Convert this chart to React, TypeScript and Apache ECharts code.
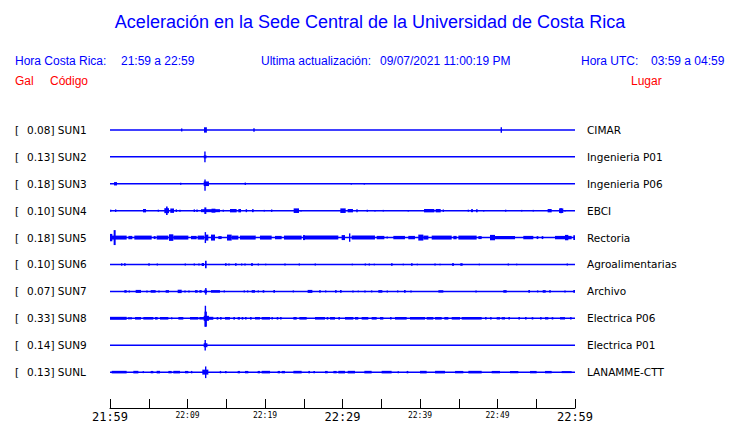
import { useEffect, useRef } from "react";
import * as echarts from "echarts";

type Ev = number[]; // [tStart(min), tEnd(min), ampUp, ampDown?]

const TITLE = "Aceleración en la Sede Central de la Universidad de Costa Rica";
const HORA_CR = "21:59 a 22:59";
const HORA_UTC = "03:59 a 04:59";
const ACTUALIZACION = "09/07/2021 11:00:19 PM";

const CODES = ["SUN1", "SUN2", "SUN3", "SUN4", "SUN5", "SUN6", "SUN7", "SUN8", "SUN9", "SUNL"];
const GALS = ["0.08", "0.13", "0.18", "0.10", "0.18", "0.10", "0.07", "0.33", "0.14", "0.13"];
const PLACES = [
  "CIMAR", "Ingenieria P01", "Ingenieria P06", "EBCI", "Rectoria",
  "Agroalimentarias", "Archivo", "Electrica P06", "Electrica P01", "LANAMME-CTT",
];

// minutes after 21:59
const X_MIN = 0;
const X_MAX = 60;
const TICK_STEP = 5;
const TICK_LABELS = ["21:59", "22:09", "22:19", "22:29", "22:39", "22:49", "22:59"];
const MAJOR_LABELS = ["21:59", "22:29", "22:59"];

// amplitude units per trace spacing
const AMP_PER_ROW = 27;

const SUN1: Ev[] = [
  [9.22, 9.28, 1.5], [12.13, 12.5, 2.7], [18.49, 18.67, 1.8], [50.49, 50.49, 2.7],
];
const SUN2: Ev[] = [
  [12.1, 12.45, 1.5], [12.2, 12.3, 5.3],
];
const SUN3: Ev[] = [
  [0.52, 0.9, 1.7], [9.12, 9.12, 1], [12.09, 12.77, 2.3], [12.2, 12.32, 4.3, 7],
  [17.46, 17.46, 1.2], [31.14, 31.14, 0.8], [32.82, 32.82, 0.8],
];
const SUN4: Ev[] = [
  [0.09, 0.09, 1], [0.73, 0.73, 1.3], [4.26, 4.65, 1.7], [6.24, 6.24, 1],
  [7.01, 7.61, 2.5], [7.23, 7.44, 4.3], [7.78, 8.26, 2.2], [8.47, 8.65, 1.3],
  [9.03, 9.03, 1], [10.88, 10.88, 1.3], [11.23, 11.23, 1.3], [11.74, 14.19, 1.5],
  [12.17, 12.43, 3.3], [13.1, 13.6, 2], [14.62, 14.62, 1], [15.48, 16.34, 1.7],
  [16.56, 16.9, 1.7], [17.51, 17.68, 1.5], [18.32, 18.54, 1.5], [19.91, 19.91, 0.8],
  [20.86, 20.86, 1.2], [23.7, 24.39, 2.3], [24.65, 24.65, 0.8], [29.72, 30.41, 2.3],
  [30.67, 31.35, 1.7], [31.78, 31.96, 1.5], [33.2, 33.2, 1], [34.19, 34.19, 0.8],
  [35.27, 35.27, 0.8], [38.49, 38.49, 0.8], [40.52, 41.85, 1.7], [42.02, 42.67, 1.7],
  [42.92, 43.1, 1.2], [46.24, 46.24, 1], [46.58, 46.84, 1.5], [47.23, 47.44, 1.5],
  [48.22, 48.22, 0.8], [51.05, 51.05, 1], [53.12, 53.12, 0.8], [54.62, 54.62, 0.8],
  [56.47, 56.99, 1.7], [57.94, 58.49, 2.3], [58.11, 58.28, 2.7], [58.71, 58.71, 0.8],
];
const SUN5: Ev[] = [
  [0, 0.3, 3.7], [0.47, 0.73, 7.5], [0, 2.15, 2], [2.37, 2.88, 1.7], [3.14, 5.38, 2],
  [5.63, 5.89, 1.5], [6.02, 7.53, 2], [7.61, 8.17, 3.3], [8.17, 10.11, 2],
  [10.45, 11.18, 1.7], [11.31, 12.17, 2], [12.22, 12.39, 5.5], [12.39, 12.69, 3],
  [13.03, 13.55, 3], [13.98, 14.41, 1.5], [15.1, 15.7, 3], [15.7, 16.56, 2],
  [16.77, 18.8, 2], [19.35, 20.86, 2], [21.29, 22.15, 1.7], [22.45, 24.73, 2],
  [24.9, 25.16, 2.5], [25.16, 29.46, 2], [29.89, 30.32, 2.5], [30.84, 31.01, 4.2],
  [31.18, 34.19, 2], [34.41, 35.4, 1.7], [35.7, 35.83, 1], [36.56, 38.06, 1.7],
  [38.49, 39.35, 1.7], [39.78, 40.43, 3], [40.43, 41.08, 2], [41.51, 44.09, 2],
  [44.3, 44.73, 1.7], [44.95, 47.31, 2], [47.53, 47.96, 1.5], [49.03, 49.68, 2.7],
  [49.68, 52.26, 1.7], [53.33, 54.62, 1.7], [55.05, 55.27, 1.5], [55.7, 55.91, 1.5],
  [57.42, 59.57, 1.7], [58.71, 59.14, 2.7], [59.78, 60, 2.3],
];
const SUN6: Ev[] = [
  [1.42, 1.59, 1.2], [1.81, 2.02, 1.2], [4.95, 5.12, 1.3], [6.11, 6.11, 1],
  [9.72, 9.72, 1], [10.88, 10.88, 1], [11.48, 11.48, 1], [11.83, 12.13, 1.5],
  [12.26, 12.47, 3.7], [14.84, 15.05, 1.3], [15.35, 15.35, 1], [16.13, 16.34, 1.3],
  [16.99, 16.99, 1], [17.42, 17.42, 1], [18.19, 18.45, 1.3], [19.14, 19.14, 1],
  [20.09, 20.09, 0.8], [22.58, 22.58, 1], [24.43, 24.43, 1], [26.49, 26.49, 1],
  [31.27, 31.27, 0.8], [32.95, 32.95, 1], [33.46, 33.46, 1], [34.11, 34.11, 0.8],
  [36.26, 36.47, 1.3], [37.85, 37.85, 0.8], [38.84, 39.05, 1.2], [39.66, 39.66, 0.8],
  [41.94, 41.94, 1], [42.58, 42.58, 0.8], [44.13, 44.39, 1.3], [45.2, 45.5, 1.3],
  [47.66, 47.66, 0.8], [51.4, 51.4, 1], [52.47, 52.47, 0.8], [59.01, 59.01, 1],
];
const SUN7: Ev[] = [
  [1.85, 2.15, 1.3], [2.49, 2.49, 1], [3.31, 4, 1.5], [4.77, 4.77, 1], [5.25, 5.89, 1.3],
  [6.32, 6.32, 1], [7.18, 7.61, 1.3], [8.73, 9.25, 1.7], [9.68, 9.68, 1], [10.19, 10.19, 1],
  [10.97, 11.31, 1.3], [11.53, 11.83, 1.3], [12.17, 12.52, 1.7], [12.3, 12.43, 3.3],
  [13.03, 14.19, 1.3], [14.75, 14.75, 1], [17.33, 17.33, 1], [17.76, 17.76, 1],
  [18.28, 18.71, 1.3], [19.14, 19.14, 1], [19.7, 19.91, 1.3], [21.08, 21.29, 1.3],
  [23.66, 23.66, 1], [25.5, 26.11, 1.5], [27.01, 27.18, 1.3], [27.83, 27.83, 1],
  [29.03, 29.25, 1.3], [29.68, 29.89, 1.3], [31.35, 31.35, 1], [32.04, 32.04, 0.8],
  [32.9, 32.9, 1], [33.76, 33.76, 1], [34.62, 35.14, 1.3], [35.78, 35.78, 1],
  [37.12, 37.12, 1], [37.94, 38.15, 1.3], [38.84, 38.84, 1], [42.37, 43.01, 1.2],
  [47.23, 47.23, 1], [50.75, 51.18, 1.3], [53.98, 54.19, 1.3], [55.18, 55.18, 1],
  [55.83, 56.22, 1.3], [56.69, 56.86, 1.3], [58.71, 58.71, 1], [59.78, 60, 1.3],
];
const SUN8: Ev[] = [
  [0, 2.15, 1.5], [2.45, 2.45, 1.2], [2.71, 2.71, 1.2], [3.23, 4, 1.3], [4.3, 5.59, 1.3],
  [5.81, 6.15, 1.3], [6.45, 7.53, 1.3], [7.96, 7.96, 1], [8.82, 9.46, 1.3],
  [10.32, 11.4, 1.3], [11.53, 12.17, 1.3], [12.09, 12.77, 2.5], [12.2, 12.5, 6.7, 8.4],
  [12.26, 12.36, 12.6, 8.4], [12.69, 13.33, 1.5], [13.76, 13.98, 1.3], [14.19, 14.41, 1.3],
  [14.84, 15.48, 1.3], [15.91, 16.13, 1.3], [16.47, 16.77, 1.3], [16.99, 17.2, 1.3],
  [17.42, 17.63, 1.3], [18.06, 18.28, 1.3], [18.71, 19.35, 1.3], [19.57, 20.65, 1.3],
  [20.86, 20.99, 1.3], [21.51, 21.72, 1.3], [21.94, 22.15, 1.3], [23.66, 24.09, 1.3],
  [24.43, 25.38, 1.3], [26.45, 27.74, 1.3], [27.96, 28.17, 1.3], [28.39, 29.03, 1.3],
  [29.46, 29.68, 1.3], [30.32, 31.4, 1.3], [31.61, 32.04, 1.3], [32.47, 33.33, 1.3],
  [33.76, 34.41, 1.3], [34.84, 35.27, 1.3], [36.13, 36.34, 1.3], [36.77, 38.28, 1.3],
  [38.71, 40.65, 1.3], [40.86, 41.72, 1.3], [41.94, 42.8, 1.3], [43.14, 43.66, 1.3],
  [44.09, 45.16, 1.3], [45.38, 47.96, 1.3], [48.39, 48.6, 1.2], [49.03, 49.25, 1.2],
  [49.89, 50.32, 1.2], [50.54, 50.97, 1.2], [51.4, 51.61, 1.2], [52.69, 52.9, 1.2],
  [53.55, 53.76, 1.2], [54.41, 54.62, 1.2], [55.48, 55.7, 1.2], [56.13, 56.56, 1.2],
  [56.99, 57.2, 1.2], [58.06, 58.71, 1.2], [59.35, 59.57, 1.2],
];
const SUN9: Ev[] = [
  [12.09, 12.57, 2], [12.22, 12.35, 5.3],
];
const SUNL: Ev[] = [
  [0.22, 2.15, 1.3], [3.01, 3.66, 1.3], [4.3, 4.3, 1], [5.25, 5.59, 1.2], [6.02, 6.45, 1.3],
  [7.53, 7.96, 1.2], [8.17, 9.03, 1.3], [9.68, 10.11, 1.2], [10.45, 10.62, 1.2],
  [11.91, 12.69, 2.5], [12.26, 12.43, 5.7, 6], [14.19, 14.32, 1.2], [14.84, 15.05, 1.2],
  [16.47, 16.77, 1.2], [17.42, 17.85, 1.2], [19.05, 19.35, 1.2], [19.57, 20.65, 1.3],
  [21.63, 21.94, 1.2], [22.15, 22.58, 1.2], [23.66, 24.73, 1.3], [25.59, 25.81, 1.2],
  [26.24, 26.45, 1.2], [27.74, 28.09, 1.2], [28.82, 29.25, 1.2], [29.46, 30.32, 1.3],
  [30.67, 31.61, 1.3], [32.82, 33.76, 1.3], [35.05, 36.34, 1.3], [37.2, 37.2, 1],
  [38.28, 38.49, 1.2], [40, 40.86, 1.3], [41.94, 43.23, 1.3], [44.52, 45.59, 1.2],
  [46.24, 47.96, 1.3], [49.25, 50.32, 1.2], [51.61, 52.69, 1.2], [54.19, 55.05, 1.2],
  [56.13, 56.99, 1.2], [58.28, 59.57, 1],
];

const TRACES: Ev[][] = [SUN1, SUN2, SUN3, SUN4, SUN5, SUN6, SUN7, SUN8, SUN9, SUNL];

const BLUE = "#0000ff";
const RED = "#ff0000";
const SANS = "'Liberation Sans', Arial, sans-serif";
const DJV = "'DejaVu Sans', sans-serif";
const MONO = "'DejaVu Sans Mono', monospace";

export default function App() {
  const ref = useRef<HTMLDivElement>(null);

  useEffect(() => {
    if (!ref.current) return;
    const chart = echarts.init(ref.current, undefined, { renderer: "svg" });

    const evData: number[][] = [];
    TRACES.forEach((tr, row) =>
      tr.forEach((e) => evData.push([e[0], e[1], e[2], e[3] ?? e[2], row]))
    );

    const baselineSeries = TRACES.map((_, row) => ({
      type: "line",
      silent: true,
      symbol: "none",
      data: [
        [X_MIN, row],
        [X_MAX, row],
      ],
      lineStyle: { color: BLUE, width: 1.5 },
      z: 2,
    }));

    chart.setOption({
      animation: false,
      grid: { left: 110, right: 165, top: 112, bottom: 14 },
      xAxis: {
        type: "value",
        position: "bottom",
        min: X_MIN,
        max: X_MAX,
        interval: TICK_STEP,
        splitLine: { show: false },
        axisLine: { onZero: false, lineStyle: { color: "#000", width: 1 } },
        axisTick: { inside: true, length: 9, lineStyle: { color: "#000", width: 1 } },
        axisLabel: {
          margin: 3,
          showMinLabel: true,
          showMaxLabel: true,
          formatter: (v: number) => {
            if (v % 10 !== 0) return "";
            const lab = TICK_LABELS[v / 10];
            return MAJOR_LABELS.includes(lab) ? `{big|${lab}}` : `{small|${lab}}`;
          },
          rich: {
            big: { fontFamily: MONO, fontSize: 12, color: "#000" },
            small: { fontFamily: MONO, fontSize: 8, color: "#000" },
          },
        },
      },
      yAxis: {
        type: "value",
        inverse: true,
        min: -0.667,
        max: 10.333,
        show: false,
      },
      series: [
        ...baselineSeries,
        {
          type: "custom",
          silent: true,
          z: 3,
          data: evData,
          encode: { x: [0, 1], y: 4 },
          renderItem: (_params: any, api: any) => {
            const t0 = api.value(0);
            const t1 = api.value(1);
            const up = api.value(2) / AMP_PER_ROW;
            const dn = api.value(3) / AMP_PER_ROW;
            const row = api.value(4);
            const pTop0 = api.coord([t0, row - up]);
            const pBot1 = api.coord([t1, row + dn]);
            const w = Math.max(pBot1[0] - pTop0[0], 1.4);
            const cx = (pTop0[0] + pBot1[0]) / 2;
            return {
              type: "rect",
              shape: { x: cx - w / 2, y: pTop0[1], width: w, height: pBot1[1] - pTop0[1] },
              style: { fill: BLUE },
            };
          },
        },
      ],
    });

    const rowY = TRACES.map((_, row) => chart.convertToPixel({ gridIndex: 0 }, [X_MIN, row])[1]);
    const rightX = chart.convertToPixel({ gridIndex: 0 }, [X_MAX, 0])[0] + 12;

    const graphic: any[] = [
      {
        type: "text",
        x: 370,
        y: 22,
        style: { text: TITLE, fill: BLUE, font: `18px ${SANS}`, align: "center", verticalAlign: "middle" },
      },
      { type: "text", x: 15, y: 61, style: { text: "Hora Costa Rica:", fill: BLUE, font: `12px ${SANS}`, verticalAlign: "middle" } },
      { type: "text", x: 121, y: 61, style: { text: HORA_CR, fill: BLUE, font: `12px ${SANS}`, verticalAlign: "middle" } },
      { type: "text", x: 261, y: 61, style: { text: "Ultima actualización:", fill: BLUE, font: `12px ${SANS}`, verticalAlign: "middle" } },
      { type: "text", x: 380, y: 61, style: { text: ACTUALIZACION, fill: BLUE, font: `12px ${SANS}`, verticalAlign: "middle" } },
      { type: "text", x: 581, y: 61, style: { text: "Hora UTC:", fill: BLUE, font: `12px ${SANS}`, verticalAlign: "middle" } },
      { type: "text", x: 651, y: 61, style: { text: HORA_UTC, fill: BLUE, font: `12px ${SANS}`, verticalAlign: "middle" } },
      { type: "text", x: 15, y: 81, style: { text: "Gal", fill: RED, font: `12px ${SANS}`, verticalAlign: "middle" } },
      { type: "text", x: 50, y: 81, style: { text: "Código", fill: RED, font: `12px ${SANS}`, verticalAlign: "middle" } },
      { type: "text", x: 631, y: 81, style: { text: "Lugar", fill: RED, font: `12px ${SANS}`, verticalAlign: "middle" } },
    ];
    rowY.forEach((y, i) => {
      graphic.push(
        { type: "text", x: 15, y, style: { text: "[", fill: "#000", font: `10.5px ${DJV}`, verticalAlign: "middle" } },
        { type: "text", x: 27, y, style: { text: `${GALS[i]}] ${CODES[i]}`, fill: "#000", font: `10.5px ${DJV}`, verticalAlign: "middle" } },
        { type: "text", x: rightX, y, style: { text: PLACES[i], fill: "#000", font: `10.5px ${DJV}`, verticalAlign: "middle" } }
      );
    });
    chart.setOption({ graphic });

    return () => chart.dispose();
  }, []);

  return <div ref={ref} style={{ width: 740, height: 423, position: "absolute", left: 0, top: 0 }} />;
}
